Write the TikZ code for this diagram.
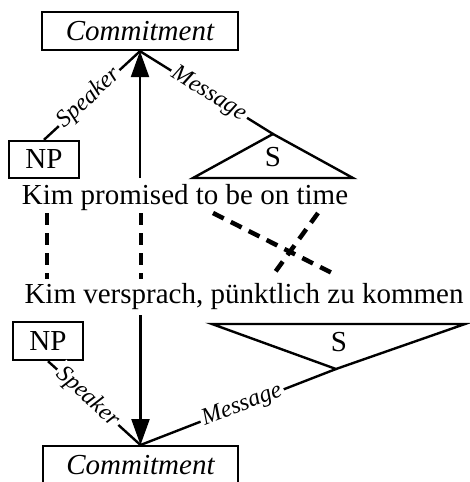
\documentclass[tikz,border=0pt]{standalone}
\usepackage{fontspec}
\setmainfont{Liberation Serif}
\usetikzlibrary{arrows.meta}
\begin{document}
\begin{tikzpicture}[x=1pt,y=-1pt,
  every node/.style={font=\fontsize{29}{34}\selectfont},
  box/.style={draw,line width=2.4pt,inner sep=0pt,fill=white},
  lbl/.style={fill=white,inner sep=2.5pt,sloped,font=\fontsize{24}{28}\selectfont\itshape},
  conn/.style={line width=2.4pt},
  arr/.style={line width=2.4pt,-{Triangle[length=26pt,width=18pt]}},
  dsh/.style={line width=4.5pt,dash pattern=on 12pt off 8pt}]
\useasboundingbox (0,0) rectangle (469,482);
% upper half
\node[box,minimum width=196pt,minimum height=38pt] (c1) at (140,31) {\itshape Commitment};
\node[box,minimum width=70pt,minimum height=37pt] (np1) at (44,159.5) {NP};
\coordinate (s1) at (273,134);
\coordinate (s1l) at (193,178);
\coordinate (s1r) at (353,178);
\node (s1t) at (273,157) {S};
\node[anchor=base] (t1) at (185,204) {Kim promised to be on time};
\coordinate (a1) at (140,178);
\draw[conn] (s1l) -- (s1) -- (s1r) -- cycle;
\draw[conn] (np1.north) -- node[lbl,pos=0.47]{Speaker} (c1.south);
\draw[conn] (c1.south) -- node[lbl,pos=0.52]{Message} (s1);
\draw[arr] (a1) -- (c1.south);
% dashed links
\coordinate (d1a) at (47,213);  \coordinate (d1b) at (47,279);
\coordinate (d2a) at (141,213); \coordinate (d2b) at (141,279);
\coordinate (d3a) at (213,213); \coordinate (d3b) at (336,275);
\coordinate (d4a) at (318,213); \coordinate (d4b) at (273,275);
\draw[dsh] (d1a) -- (d1b);
\draw[dsh] (d2a) -- (d2b);
\draw[dsh] (d3a) -- (d3b);
\draw[dsh] (d4a) -- (d4b);
% lower half
\node[anchor=base] (t2) at (244,303) {Kim versprach, pünktlich zu kommen};
\node[box,minimum width=70pt,minimum height=38pt] (np2) at (48,341) {NP};
\coordinate (s2l) at (212,324);
\coordinate (s2r) at (465,324);
\coordinate (s2) at (336,369);
\node (s2t) at (339,342) {S};
\node[box,minimum width=195pt,minimum height=38pt,anchor=north] (c2) at (140.5,445) {\itshape Commitment};
\coordinate (a2) at (140.5,315);
\draw[conn] (s2l) -- (s2r) -- (s2) -- cycle;
\draw[arr] (a2) -- (c2.north);
\draw[conn] (np2.south) -- node[lbl,pos=0.43]{Speaker} (c2.north);
\draw[conn] (c2.north) -- node[lbl,pos=0.52]{Message} (s2);
\end{tikzpicture}
\end{document}
